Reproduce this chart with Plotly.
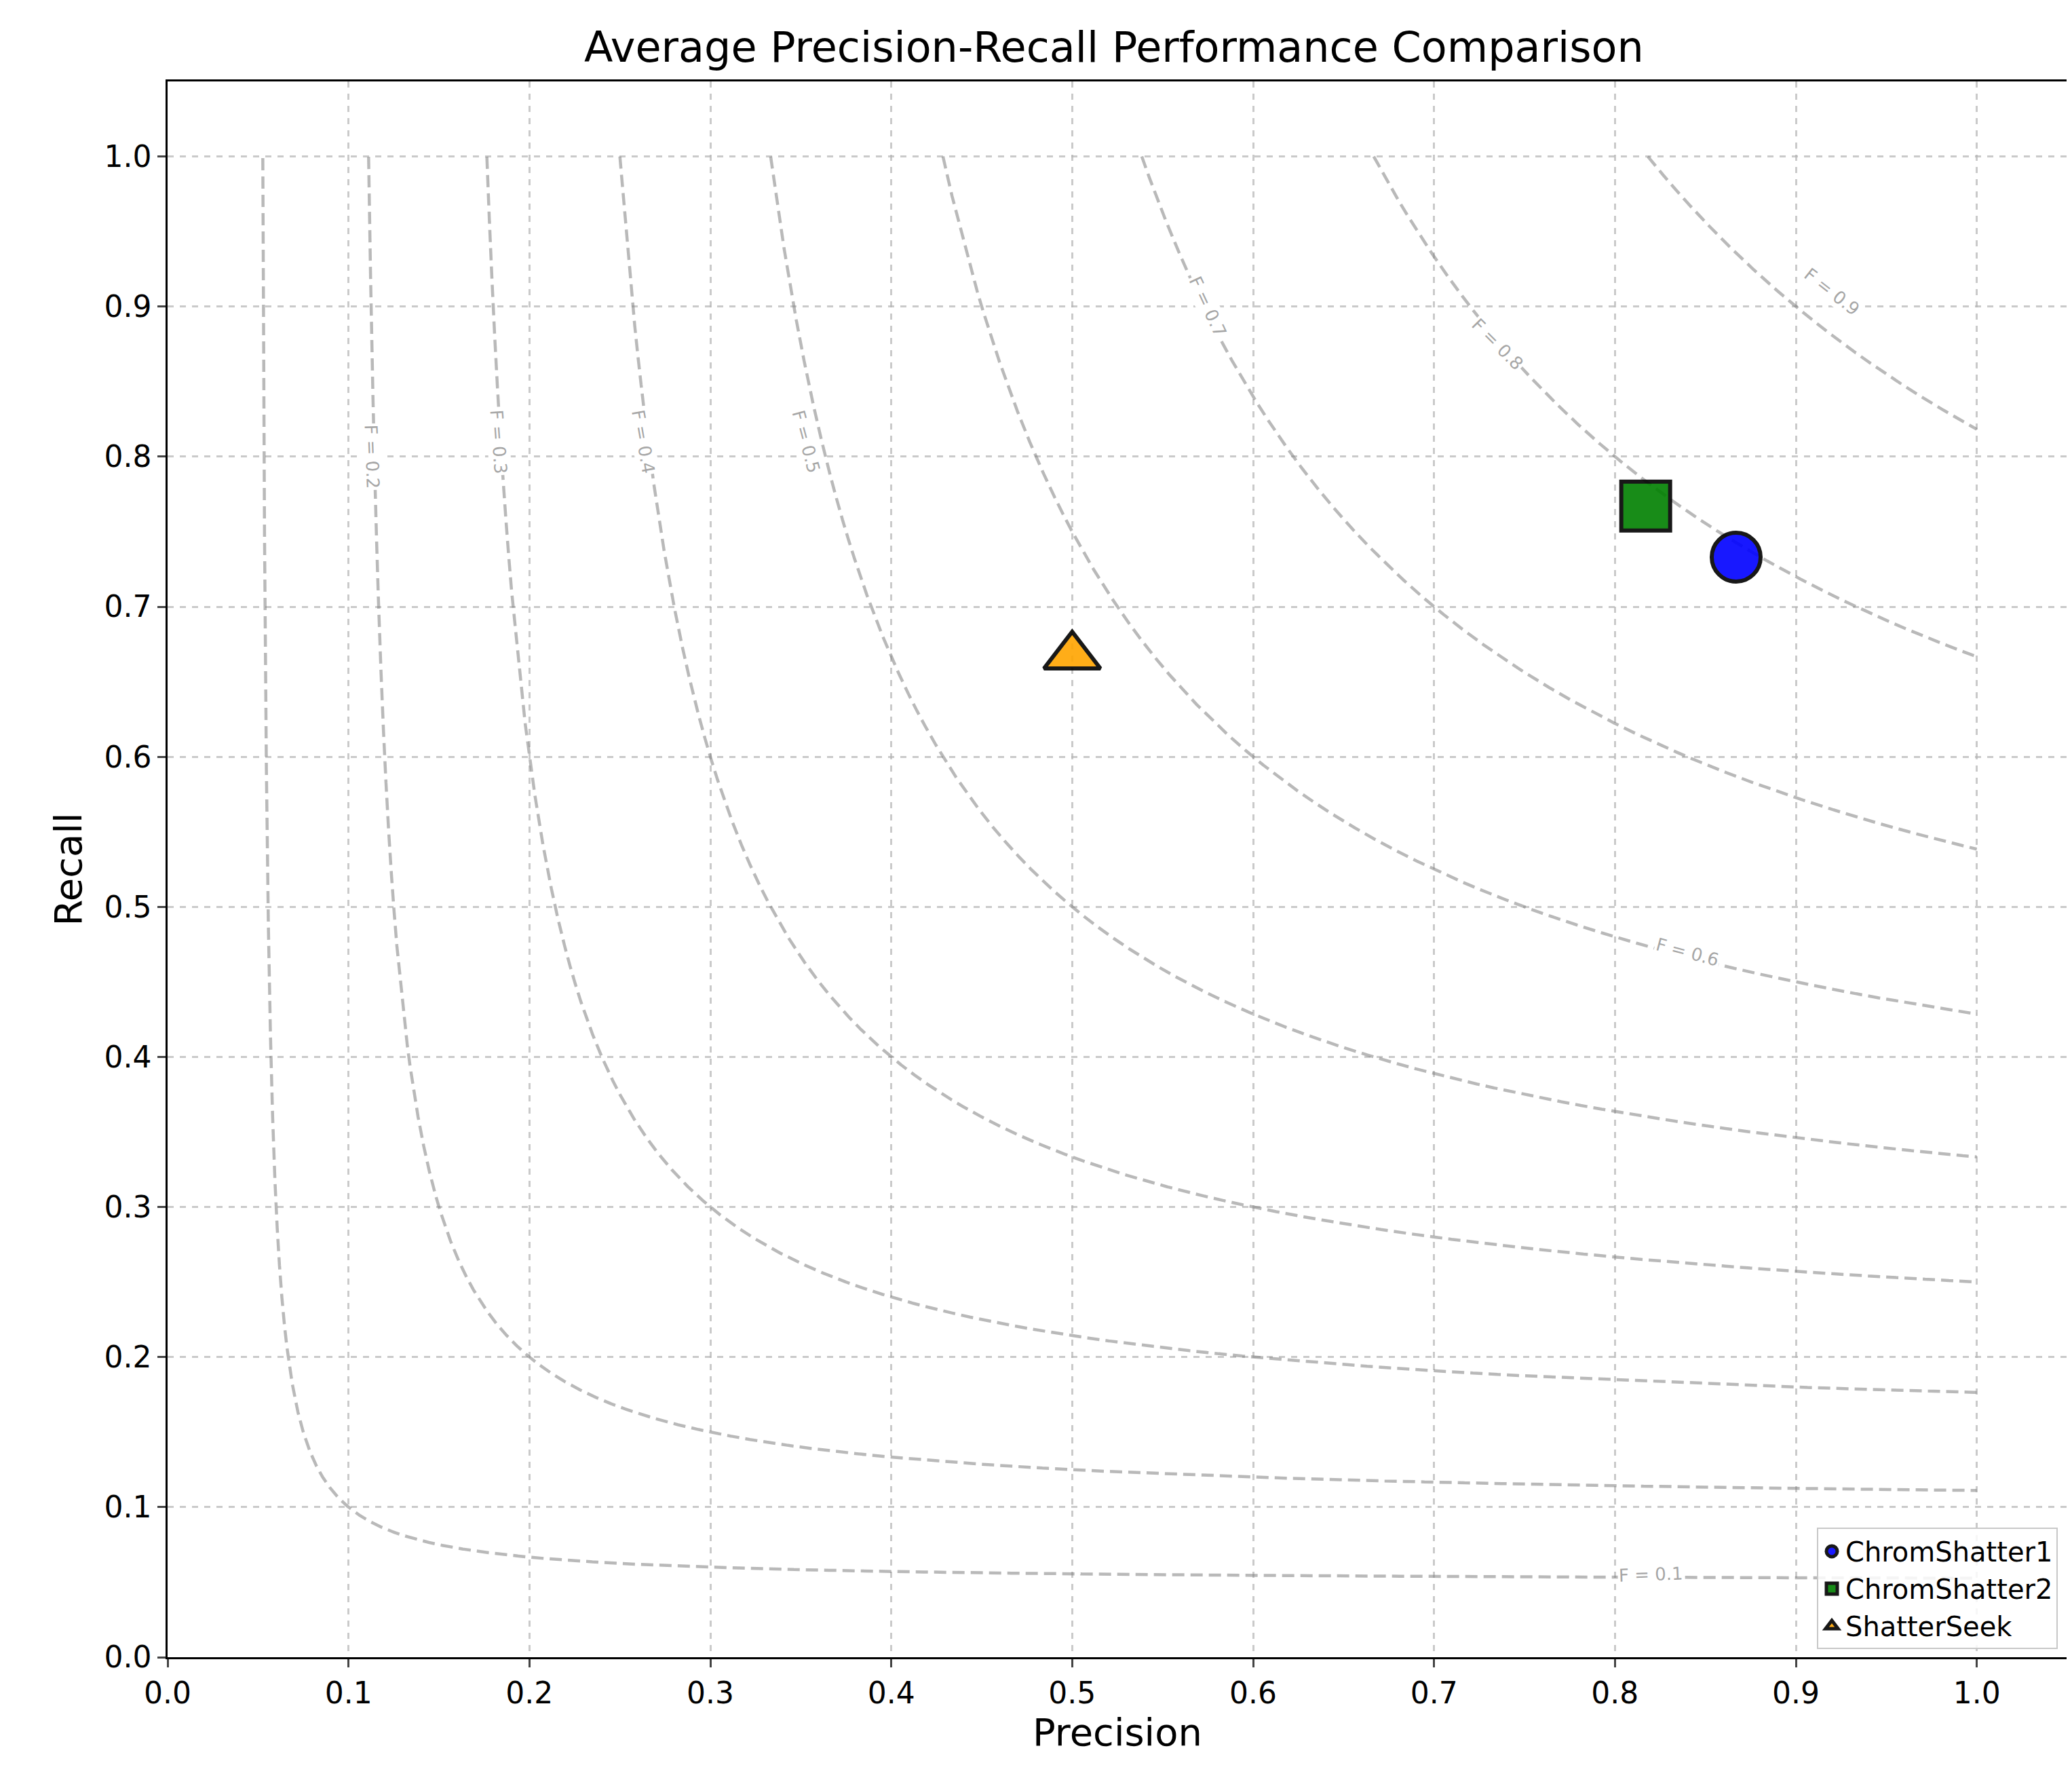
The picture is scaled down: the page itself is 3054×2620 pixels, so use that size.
import numpy as np
import plotly.graph_objects as go

tools = ["ChromShatter1", "ChromShatter2", "ShatterSeek"]
precision = [0.867, 0.817, 0.5]
recall = [0.733, 0.767, 0.667]
colors = ["blue", "green", "orange"]
symbols = ["circle", "square", "triangle-up"]
f_levels = [0.1, 0.2, 0.3, 0.4, 0.5, 0.6, 0.7, 0.8, 0.9]
label_x = [0.82, 0.113, 0.183, 0.263, 0.353, 0.84, 0.575, 0.735, 0.92]
label_y = [0.055, 0.8, 0.81, 0.81, 0.81, 0.47, 0.9, 0.875, 0.91]
label_rot = [-2, 88, 86, 80, 75, 15, 65, 45, 38]

fig = go.Figure()
for f in f_levels:
    x = np.linspace(0.01, 1, 200000)
    y = f * x / (2 * x - f)
    m = (y >= 0) & (y <= 1) & (2 * x - f > 0)
    fig.add_trace(go.Scatter(x=x[m], y=y[m], mode="lines", showlegend=False, hoverinfo="skip",
                             line=dict(color="rgba(128,128,128,0.55)", width=4.5, dash="18px,9px")))
for f, lx, ly, r in zip(f_levels, label_x, label_y, label_rot):
    fig.add_annotation(x=lx, y=ly, text=f"F = {f}", showarrow=False, textangle=r,
                       font=dict(size=26, color="rgba(150,150,150,0.85)"), bgcolor="white")
for t, p, r, c, s in zip(tools, precision, recall, colors, symbols):
    fig.add_trace(go.Scatter(x=[p], y=[r], mode="markers", name=t,
                             marker=dict(size=72, color=c, symbol=s, opacity=0.9,
                                         line=dict(color="black", width=6))))

axis = dict(range=[0, 1.05], tickvals=[i / 10 for i in range(11)], tickformat=".1f",
            showgrid=True, gridcolor="rgba(180,180,180,0.7)", griddash="dash", gridwidth=2.5,
            zeroline=False, showline=True, linecolor="black", linewidth=2.5, mirror=True,
            ticks="outside", ticklen=12, tickwidth=2.5, tickfont=dict(size=44, color="black"))
fig.update_layout(
    width=3054, height=2620, plot_bgcolor="white", paper_bgcolor="white",
    font=dict(family="DejaVu Sans", color="black"),
    title=dict(text="Average Precision-Recall Performance Comparison", x=0.535, xanchor="center",
               y=0.985, font=dict(size=62)),
    margin=dict(l=239, r=13, t=112, b=186),
    xaxis=dict(axis, title=dict(text="Precision", font=dict(size=56))),
    yaxis=dict(axis, title=dict(text="Recall", font=dict(size=56))),
    legend=dict(x=0.995, y=0.005, xanchor="right", yanchor="bottom", bgcolor="rgba(255,255,255,0.85)",
                bordercolor="rgba(200,200,200,1)", borderwidth=2, font=dict(size=40), itemsizing="trace"),
)
fig.write_html("out.html")
